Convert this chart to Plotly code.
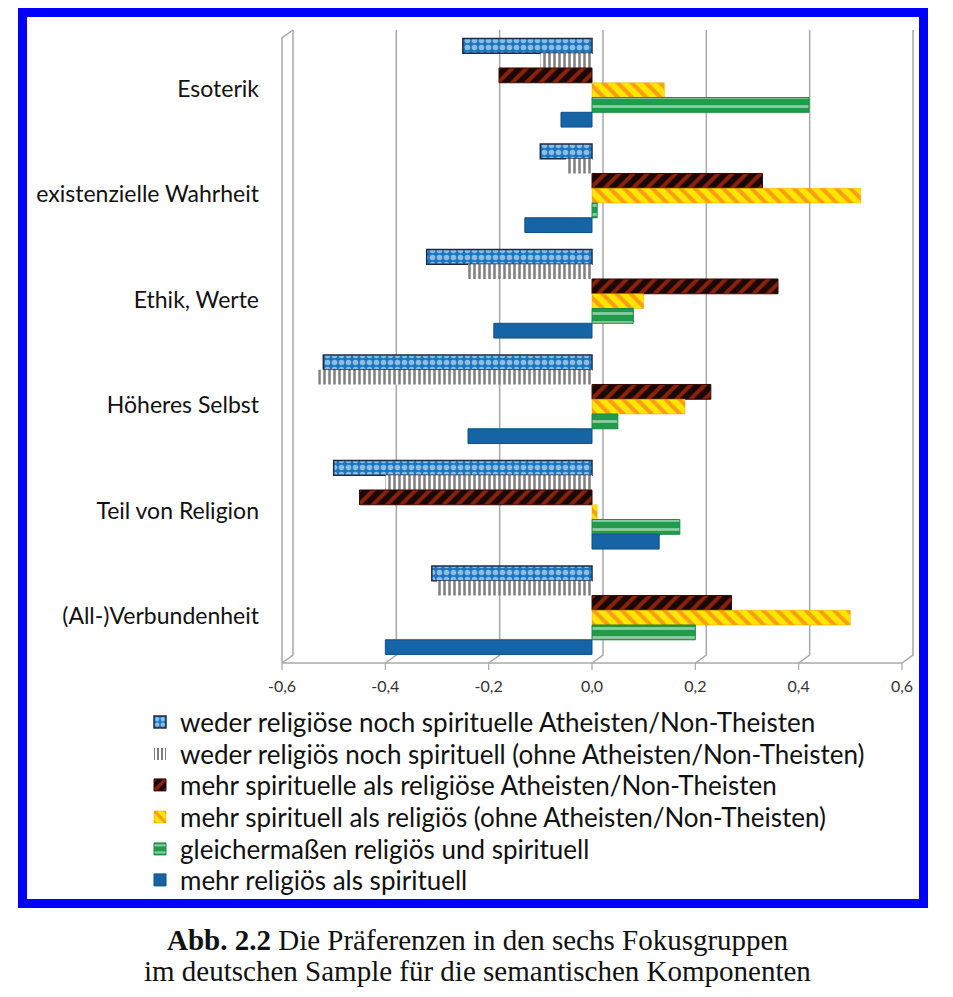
import plotly.graph_objects as go

# ---------------- data ----------------
categories = ["Esoterik", "existenzielle Wahrheit", "Ethik, Werte",
              "Höheres Selbst", "Teil von Religion", "(All-)Verbundenheit"]

series_names = [
    "weder religiöse noch spirituelle Atheisten/Non-Theisten",
    "weder religiös noch spirituell (ohne Atheisten/Non-Theisten)",
    "mehr spirituelle als religiöse Atheisten/Non-Theisten",
    "mehr spirituell als religiös (ohne Atheisten/Non-Theisten)",
    "gleichermaßen religiös und spirituell",
    "mehr religiös als spirituell",
]

weder_atheisten = [-0.25, -0.10, -0.32, -0.52, -0.50, -0.31]
weder_ohne = [-0.10, -0.05, -0.24, -0.53, -0.40, -0.30]
mehr_spir_atheisten = [-0.18, 0.33, 0.36, 0.23, -0.45, 0.27]
mehr_spir_ohne = [0.14, 0.52, 0.10, 0.18, 0.01, 0.50]
gleichermassen = [0.42, 0.01, 0.08, 0.05, 0.17, 0.20]
mehr_religioes = [-0.06, -0.13, -0.19, -0.24, 0.13, -0.40]

series_values = [weder_atheisten, weder_ohne, mehr_spir_atheisten,
                 mehr_spir_ohne, gleichermassen, mehr_religioes]

x_ticks = [-0.6, -0.4, -0.2, 0.0, 0.2, 0.4, 0.6]
x_tick_labels = ["-0,6", "-0,4", "-0,2", "0,0", "0,2", "0,4", "0,6"]

caption_line1_bold = "Abb. 2.2"
caption_line1 = " Die Präferenzen in den sechs Fokusgruppen"
caption_line2 = "im deutschen Sample für die semantischen Komponenten"

# ---------------- styles ----------------
styles = [
    dict(color="#1b76c2", pattern=dict(shape=".", fgcolor="#ffffff", size=7, solidity=0.5, fillmode="overlay"),
         line=dict(color="#1c2b44", width=1.5)),
    dict(color="#ffffff", pattern=dict(shape="|", fgcolor="#000000", size=5, solidity=0.5, fillmode="overlay"),
         line=dict(color="#ffffff", width=0)),
    dict(color="#1a0806", pattern=dict(shape="/", fgcolor="#ff3a10", size=10, solidity=0.4, fillmode="overlay"),
         line=dict(color="#3a0a05", width=1)),
    dict(color="#ffe600", pattern=dict(shape="\\", fgcolor="#f2552a", size=10, solidity=0.4, fillmode="overlay"),
         line=dict(color="#f0a000", width=0.5)),
    dict(color="#1f9c4c", pattern=dict(shape="-", fgcolor="#ffffff", size=9, solidity=0.3, fillmode="overlay"),
         line=dict(color="#1a8a42", width=1)),
    dict(color="#1564a6", line=dict(color="#0f4f86", width=1)),
]

OFF = 8  # page body margin in the screenshot
W, H = 953 - OFF, 997 - OFF
# plot area in screenshot pixels: x 282..902, y 30..663
L = 282 - OFF
R = W - (902 - OFF)
T = 30 - OFF
B = H - (663 - OFF)
XMIN, XMAX = -0.6, 0.6
PW = W - L - R
PH = H - T - B


def xp(v):
    return (v - XMIN) / (XMAX - XMIN)


def px_x(px):
    return (px - OFF - L) / PW


def px_y(py):
    return (H - B - (py - OFF)) / PH


legend_ids = ["legend"] + [f"legend{i}" for i in range(2, len(series_names) + 1)]
legend_row_y = [722, 754, 785, 817, 849, 880]  # screenshot pixel rows

fig = go.Figure()
for name, vals, st, lid in zip(series_names, series_values, styles, legend_ids):
    fig.add_trace(go.Bar(
        y=categories, x=vals, name=name, orientation="h",
        marker=st, legend=lid,
    ))

shapes = []
grid_col = "#a8a8a8"
dx = 11 / PW  # depth offset in paper units
dy = 8 / PH
for v in x_ticks:
    x0 = xp(v)
    shapes.append(dict(type="path", xref="paper", yref="paper",
                       path=f"M {x0},0 L {x0+dx},{dy} L {x0+dx},1 ",
                       line=dict(color=grid_col, width=1.5), layer="below"))
    shapes.append(dict(type="line", xref="paper", yref="paper",
                       x0=x0, x1=x0, y0=0, y1=-7 / PH,
                       line=dict(color=grid_col, width=1.2), layer="below"))
shapes.append(dict(type="line", xref="paper", yref="paper", x0=0, x1=1, y0=0, y1=0,
                   line=dict(color=grid_col, width=1.5)))
shapes.append(dict(type="path", xref="paper", yref="paper",
                   path=f"M 0,0 L 0,{1-dy} L {dx},1",
                   line=dict(color=grid_col, width=1.5), layer="below"))

shapes.append(dict(type="rect", xref="paper", yref="paper",
                   x0=px_x(22.5), x1=px_x(923.5), y0=px_y(903.5), y1=px_y(12.5),
                   line=dict(color="#0000ff", width=9), fillcolor="rgba(0,0,0,0)"))

annotations = [
    dict(xref="paper", yref="paper", x=px_x(477), y=px_y(940), showarrow=False,
         text=f"<b>{caption_line1_bold}</b>{caption_line1}",
         font=dict(family="Liberation Serif", size=29, color="#111111"),
         xanchor="center", yanchor="middle"),
    dict(xref="paper", yref="paper", x=px_x(477), y=px_y(971), showarrow=False,
         text=caption_line2,
         font=dict(family="Liberation Serif", size=29, color="#111111"),
         xanchor="center", yanchor="middle"),
]

legend_layout = {}
for lid, ry in zip(legend_ids, legend_row_y):
    legend_layout[lid] = dict(x=px_x(140), y=px_y(ry), xanchor="left", yanchor="middle",
                              font=dict(family="Lato", size=26, color="#111111"),
                              itemwidth=30, bgcolor="rgba(0,0,0,0)",
                              borderwidth=0)

fig.update_layout(
    width=W, height=H,
    margin=dict(l=L, r=R, t=T, b=B, autoexpand=False),
    paper_bgcolor="white", plot_bgcolor="white",
    barmode="group", bargap=0.16, bargroupgap=0.0,
    showlegend=True,
    xaxis=dict(range=[XMIN, XMAX], tickvals=x_ticks, ticktext=x_tick_labels,
               showgrid=False, zeroline=False, showline=False,
               ticks="", ticklabelstandoff=12,
               tickfont=dict(family="Lato", size=16, color="#333333")),
    yaxis=dict(categoryorder="array", categoryarray=categories, autorange="reversed",
               showgrid=False, zeroline=False, showline=False, ticks="",
               ticklabelstandoff=22, ticklabelshift=-6,
               tickfont=dict(family="Lato", size=23, color="#111111")),
    shapes=shapes, annotations=annotations,
    **legend_layout,
)

fig.write_html("out.html")
